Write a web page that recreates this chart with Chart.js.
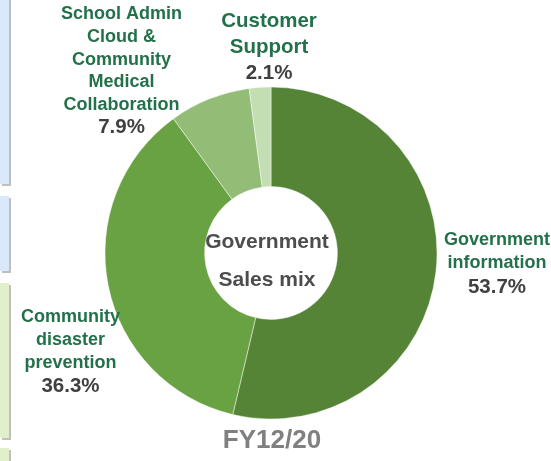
<!DOCTYPE html>
<html>
<head>
<meta charset="utf-8">
<script src="https://cdn.jsdelivr.net/npm/chart.js@4"></script>
<style>
  html, body { margin: 0; padding: 0; background: #ffffff; }
  #wrap { position: relative; width: 551px; height: 461px; overflow: hidden; }
  canvas { position: absolute; left: 0; top: 0; }
  .side { position: absolute; left: 0; width: 9px; box-shadow: 2px 2px 0 #bfbfbf; }
  .blue { background: #dae8fc; }
  .green { background: #e2efcb; }
</style>
</head>
<body>
<div id="wrap">
  <div class="side blue" style="top:-4px;height:188px"></div>
  <div class="side blue" style="top:196px;height:75px"></div>
  <div class="side green" style="top:283px;height:155px"></div>
  <div class="side green" style="top:448px;height:30px"></div>
  <canvas id="c" width="551" height="461"></canvas>
</div>
<script>
// Government segment sales mix, FY12/20 (share of sales, %)
const categories = [
  ['Government', 'information'],
  ['Community', 'disaster', 'prevention'],
  ['School Admin', 'Cloud &', 'Community', 'Medical', 'Collaboration'],
  ['Customer', 'Support']
];
const shares = [53.7, 36.3, 7.9, 2.1];
const centerLines = ['Government', 'Sales mix'];
const periodLabel = 'FY12/20';

const sliceColors = ['#558436', '#69a243', '#93bd76', '#c4deb3'];

// Where each category label sits: centre x, y of the first line, line step, font sizes
const labelLayout = [
  { x: 497, y: 240, step: 23.5, nameSize: 18, pctSize: 20.5 },
  { x: 70.5, y: 317, step: 23, nameSize: 18, pctSize: 20.5 },
  { x: 121.5, y: 14.5, step: 22.6, nameSize: 18, pctSize: 20.5 },
  { x: 269, y: 21, step: 26, nameSize: 20.5, pctSize: 20.5 }
];

const FONT = '"Liberation Sans", Arial, sans-serif';

const textPlugin = {
  id: 'mixText',
  afterDraw(chart) {
    const ctx = chart.ctx;
    const arc = chart.getDatasetMeta(0).data[0];
    const cx = arc.x, cy = arc.y;
    ctx.save();
    ctx.textAlign = 'center';
    ctx.textBaseline = 'middle';

    // category names with their share underneath
    categories.forEach((lines, i) => {
      const L = labelLayout[i];
      ctx.fillStyle = '#23714a';
      ctx.font = 'bold ' + L.nameSize + 'px ' + FONT;
      lines.forEach((t, k) => ctx.fillText(t, L.x, L.y + k * L.step));
      ctx.fillStyle = '#404040';
      ctx.font = 'bold ' + L.pctSize + 'px ' + FONT;
      ctx.fillText(shares[i].toFixed(1) + '%', L.x, L.y + lines.length * L.step);
    });

    // title inside the hole
    ctx.fillStyle = '#4d4d4d';
    ctx.font = 'bold 21px ' + FONT;
    ctx.fillText(centerLines[0], cx - 4, cy - 11);
    ctx.fillText(centerLines[1], cx - 4, cy + 27);

    // fiscal period under the ring
    ctx.fillStyle = '#808080';
    ctx.font = 'bold 26px ' + FONT;
    ctx.fillText(periodLabel, cx + 1, 441);
    ctx.restore();
  }
};

new Chart(document.getElementById('c'), {
  type: 'doughnut',
  data: {
    labels: categories.map(l => l.join(' ')),
    datasets: [{
      data: shares,
      backgroundColor: sliceColors,
      borderColor: 'rgba(255,255,255,0.45)',
      borderWidth: 1
    }]
  },
  options: {
    responsive: false,
    animation: false,
    radius: 166,
    cutout: '40%',
    layout: { padding: { left: 0, right: 9, top: 45, bottom: 0 } },
    plugins: {
      legend: { display: false },
      tooltip: { enabled: false }
    }
  },
  plugins: [textPlugin]
});
</script>
</body>
</html>
